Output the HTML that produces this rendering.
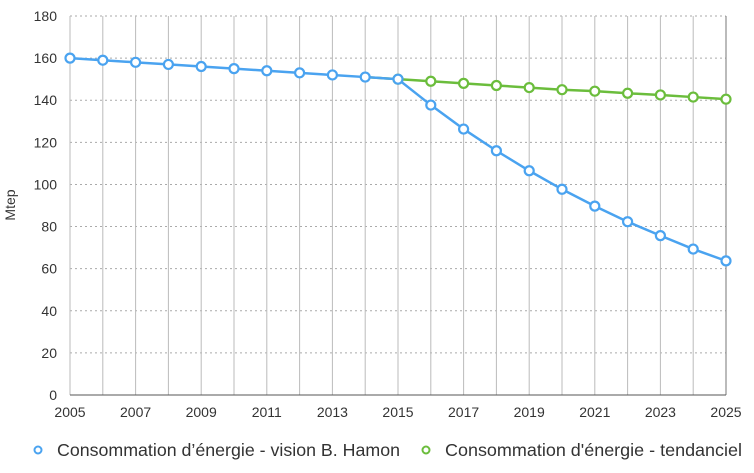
<!DOCTYPE html><html><head><meta charset="utf-8"><style>body{margin:0;background:#fff}svg{font-family:"Liberation Sans",sans-serif}</style></head><body>
<svg id="c" width="754" height="468"></svg>
<script>
const years=[2005,2006,2007,2008,2009,2010,2011,2012,2013,2014,2015,2016,2017,2018,2019,2020,2021,2022,2023,2024,2025];
const hamon=[160,159,158,157,156,155,154,153,152,151,150,137.7,126.3,116,106.5,97.7,89.7,82.3,75.7,69.3,63.7];
const trendYears=[2014,2015,2016,2017,2018,2019,2020,2021,2022,2023,2024,2025];
const trend=[151,150,149,148,147,146,145,144.3,143.3,142.5,141.5,140.5];
const yTicks=[0,20,40,60,80,100,120,140,160,180];
const xTicks=[2005,2007,2009,2011,2013,2015,2017,2019,2021,2023,2025];
const NS='http://www.w3.org/2000/svg',svg=document.getElementById('c');
const X=v=>70+(v-2005)*(656/20),Y=v=>395-v*(379/180);
function mk(t,a,p){const e=document.createElementNS(NS,t);for(const k in a)e.setAttribute(k,a[k]);(p||svg).appendChild(e);return e;}
yTicks.forEach(v=>{if(v>0){const l=mk('line',{x1:70,x2:726,y1:Y(v),y2:Y(v),stroke:'#aaa','stroke-dasharray':'2,3'});

}
const t=mk('text',{x:57,y:Y(v)+5,'text-anchor':'end','font-size':14,fill:'#333'});t.textContent=v;

});
years.forEach(v=>{const l=mk('line',{x1:X(v),x2:X(v),y1:16,y2:395,stroke:v==2025?'#777':'#bbb'});

});
mk('line',{x1:70,x2:726,y1:395,y2:395,stroke:'#555'});
xTicks.forEach(v=>{const t=mk('text',{x:X(v),y:417,'text-anchor':'middle','font-size':14,fill:'#333'});t.textContent=v;

});
const yt=mk('text',{x:15,y:205,'text-anchor':'middle','font-size':14,fill:'#333',transform:'rotate(-90 15 205)'});yt.textContent='Mtep';


function series(xs,vs,col,name){const pl=mk('polyline',{points:xs.map((x,i)=>X(x)+','+Y(vs[i])).join(' '),fill:'none',stroke:col,'stroke-width':2.5});


xs.forEach((x,i)=>{if(name=='trend'&&i==0)return;const c=mk('circle',{cx:X(x),cy:Y(vs[i]),r:4.5,fill:'#fff',stroke:col,'stroke-width':2.2});

});}
series(trendYears,trend,'#6bbd3c','trend');
series(years,hamon,'#4aa3f0','hamon');
const lg=[[38,'#4aa3f0','Consommation d\u2019énergie - vision B. Hamon',343],[426,'#6bbd3c','Consommation d\'énergie - tendanciel',297]];
lg.forEach(([x,c,s,w])=>{const g=mk('g',{});
mk('circle',{cx:x,cy:450,r:3.5,fill:'#fff',stroke:c,'stroke-width':2},g);
const t=mk('text',{x:x+19,y:456,'font-size':17.5,fill:'#333',textLength:w,lengthAdjust:'spacingAndGlyphs'},g);t.textContent=s;});
</script></body></html>
